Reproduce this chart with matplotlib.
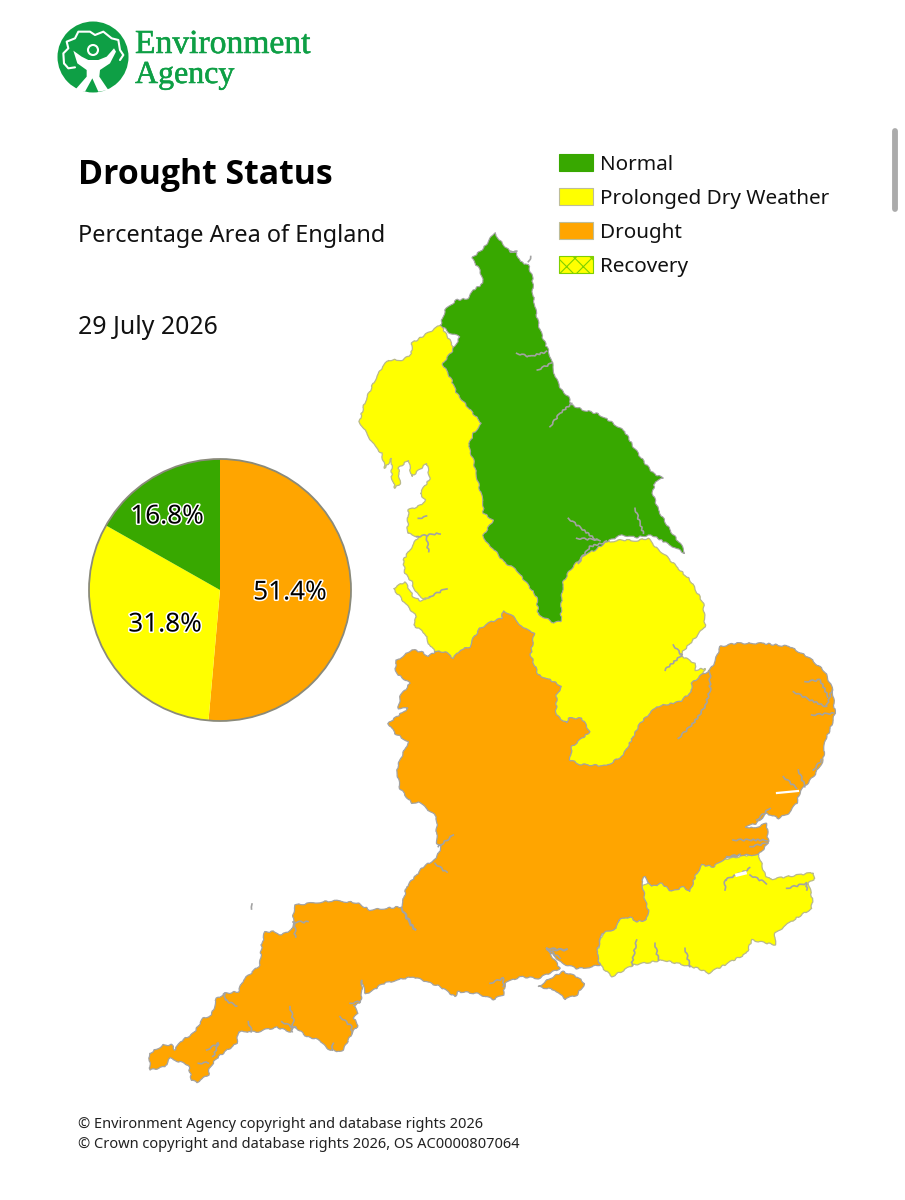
import matplotlib
matplotlib.use('Agg')
import matplotlib.pyplot as plt
import matplotlib.patheffects as pe
from matplotlib.patches import Polygon, Rectangle, Circle

# pie values, Percentage Area of England
pie_labels = ['Drought', 'Prolonged Dry Weather', 'Normal']
pie_values = [51.4, 31.8, 16.8]

legend_labels = ['Normal', 'Prolonged Dry Weather', 'Drought', 'Recovery']

GREEN = '#38A800'
YELLOW = '#FFFF00'
ORANGE = '#FFA500'
EDGE = '#A3A3A3'
LOGO = '#0E9F45'

# map outlines, each list in its own crop coordinates
# n = north crop (350,220), s = south east crop (380,600), w = south west crop (130,880), all 3x
normal_n = [(435,38),(448,60),(480,95),(500,100),(510,125),(535,135),(548,175),(548,215),(555,260),(565,310),
            (575,345),(592,385),(605,420),(615,470),(635,510),(655,530),(665,555),(700,570),(745,582),(790,610),
            (825,635),(850,680),(885,730),(910,760),(940,775),(915,785),(908,820),(925,870),(960,930),(1000,985),
            (1005,1000),(960,975),(905,945),(860,952),(815,945),(770,965),(735,990),(700,1005),(660,1050),(640,1085),
            (635,1130),(632,1205),(605,1208),(590,1195),(565,1185),(560,1130),(530,1090),(500,1050),(460,1025),
            (430,985),(405,965),(400,945),(430,900),(400,880),(400,850),(385,790),(370,720),(355,680),(370,640),
            (395,610),(360,570),(320,520),(305,480),(278,432),(305,395),(330,350),(300,340),(272,315),(285,270),
            (320,240),(355,235),(370,210),(400,190),(390,150),(365,115),(400,85),(425,50)]

dry_north_n = [(272,315),(240,335),(185,370),(185,400),(160,420),(115,420),(95,445),(75,480),(45,545),(28,605),
               (50,640),(75,680),(95,700),(105,745),(125,715),(125,770),(135,805),(150,790),(145,745),(175,720),
               (185,770),(230,730),(240,775),(210,820),(225,840),(215,855),(175,870),(172,940),(205,950),(160,1020),
               (165,1060),(185,1085),(195,1115),(225,1140),(240,1130),(210,1142),(190,1130),(165,1085),(130,1105),
               (165,1150),(200,1190),(190,1215),(225,1240),(240,1280),(255,1290)]
dry_north_s = [(165,165),(300,300),(500,560),(700,560),(880,400),(910,305),(945,290),(975,205),(945,210),(945,190),
               (900,165),(930,130),(975,80)]
dry_north_n2 = [(1060,1150),(1020,1080),(980,1040),(940,1000),(920,985),(895,955),(860,962),(815,960),(780,965),(500,700)]

dry_kent_s = [(1135,760),(1155,825),(1170,838),(1300,818),(1305,835),(1285,850),(1297,895),(1295,925),(1240,960),
              (1185,1000),(1185,1035),(1115,1020),(1100,1060),(985,1120),(955,1105),(850,1080),(760,1095),(695,1130),
              (660,1095),(650,1060),(700,900),(900,800)]

drought_s = [(50,180),(75,165),(95,148),(130,158),(145,170),(165,155),(195,155),(220,175),(240,150),(270,140),
             (280,115),(300,85),(335,65),(365,55),(370,32),(395,45),(430,85),(463,98),(452,165),(475,225),(500,235),
             (545,258),(530,285),(528,345),(560,370),(565,355),(605,355),(630,395),(600,420),(575,440),(570,480),
             (600,493),(680,498),(730,465),(760,410),(780,370),(830,320),(900,305),(935,275),(935,250),(965,225),
             (990,210),(1005,185),(1020,140),(1065,130),(1150,130),(1230,140),(1290,175),(1335,215),(1358,270),
             (1365,340),(1350,390),(1335,420),(1330,480),(1300,530),(1260,575),(1250,610),(1225,640),(1195,655),
             (1160,640),(1130,670),(1095,680),(1120,685),(1160,670),(1165,730),(1135,765),(1085,765),(1035,775),
             (1000,800),(965,795),(945,830),(930,875),(910,860),(875,875),(845,850),(815,860),(795,830),(785,840),
             (795,900),(805,930),(800,960),(770,965),(750,950),(715,960),(710,985),(665,1000),(650,1060),(660,1095),
             (610,1105)]
drought_w = [(1340,265),(1295,250),(1250,205),(1290,265),(1225,295),(1170,290),(1125,310),(1120,345),(1090,358),
             (1040,340),(985,335),(975,350),(930,320),(850,290),(800,300),(755,312),(725,335),(705,340),(695,300),
             (695,345),(690,370),(670,375),(685,400),(670,415),(685,435),(665,460),(640,510),(620,515),(590,505),
             (570,480),(530,470),(495,440),(480,455),(440,442),(410,448),(385,455),(355,455),(325,455),(320,490),
             (265,530),(240,560),(235,585),(200,607),(185,600),(175,555),(120,535),(105,560),(60,570),(58,520),
             (100,495),(125,495),(135,510),(150,485),(190,460),(220,415),(245,405),(260,355),(285,340),(325,335),
             (340,300),(390,255),(395,195),(405,155),(430,155),(455,165),(490,145),(490,100),(495,75),(610,62),
             (680,68),(720,90),(815,80),(825,40)]
drought_s2 = [(80,860),(130,800),(170,775),(185,735),(170,730),(170,650),(145,630),(115,605),(95,610),(60,565),
              (50,510),(60,480),(85,425),(45,400),(25,370),(50,350),(85,325),(55,325),(60,290),(90,250),(55,225),(45,205)]

wight_w = [(1225,320),(1260,295),(1300,275),(1340,290),(1365,310),(1340,345),(1305,357),(1275,330)]

rivers_n = [[(500,400),(540,410),(590,395)],[(562,450),(605,430)],[(600,620),(630,580),(665,550)],
            [(655,895),(700,930),(740,960)],[(680,955),(750,960)],[(685,1030),(720,980),(770,965)],
            [(855,865),(880,940)],[(205,895),(230,890)],[(200,950),(270,940)],[(230,950),(235,995)],
            [(240,1130),(290,1105)],[(480,93),(500,95)],[(535,125),(543,110)]]
rivers_s = [[(895,415),(940,370),(975,320),(990,270),(990,215)],
            [(1240,275),(1290,300),(1340,320),(1355,270)],[(1275,245),(1320,240),(1345,290)],[(1295,345),(1360,340)],
            [(1210,530),(1250,565)],[(1255,510),(1275,560)],[(1300,510),(1325,480)],
            [(1130,660),(1170,625)],[(1060,720),(1160,720)],[(1040,770),(1080,765)],[(1110,740),(1160,730)],
            [(1035,870),(1035,840),(1080,820),(1110,805)],[(1110,825),(1160,850)],
            [(220,705),(175,740)],[(165,790),(200,818)],[(65,925),(85,965),(105,990)],
            [(500,1045),(540,1075)],[(520,1050),(560,1050)],
            [(770,1020),(755,1095)],[(825,1030),(835,1080)],[(915,1045),(930,1100)],[(1220,865),(1280,850),(1280,870)],
            [(880,135),(905,165),(855,210)]]
rivers_w = [[(490,125),(535,125)],[(495,130),(495,170)],[(285,340),(285,360),(320,378)],[(660,370),(690,365)],
            [(630,410),(665,440),(665,460)],[(480,380),(490,420),(485,455)],[(455,425),(495,445)],[(355,425),(365,455)],
            [(230,510),(265,490),(250,530)],[(205,550),(235,548)],[(610,490),(605,510)],[(815,85),(855,150)],
            [(1250,205),(1310,210)],[(1080,310),(1120,295),(1120,320)],[(367,72),(367,88)]]

# logo shapes, crop (40,10) 3x
logo_person = [(100,122),(125,140),(145,150),(175,150),(200,140),(222,115),(228,125),(210,160),(180,180),(178,200),
               (205,240),(175,245),(157,205),(135,245),(105,240),(140,200),(140,180),(112,160)]
logo_crown = [(72,160),(70,130),(85,115),(80,95),(105,85),(115,65),(150,65),(165,75),(190,65),(215,85),(235,90),
              (240,120),(250,135),(240,150)]
logo_crown2 = [(72,160),(85,175),(105,172)]


def crop(points, x0, y0):
    return [(x0 + p[0] / 3, y0 + p[1] / 3) for p in points]


n = lambda pts: crop(pts, 350, 220)
s = lambda pts: crop(pts, 380, 600)
w = lambda pts: crop(pts, 130, 880)
lg = lambda pts: crop(pts, 40, 10)


def land(points, face, edge, lw, z):
    # rough edge so the coast does not look like straight segments
    p = Polygon(points, fc=face, ec=edge, lw=lw, zorder=z)
    p.set_sketch_params(scale=0.7, length=14, randomness=4)
    ax.add_patch(p)


plt.rcParams['font.family'] = ['Noto Sans', 'DejaVu Sans']
plt.rcParams['hatch.linewidth'] = 0.8

fig = plt.figure(figsize=(9.05, 12), dpi=100, facecolor='white')
ax = fig.add_axes([0, 0, 1, 1])
ax.set_xlim(0, 905)
ax.set_ylim(1200, 0)
ax.axis('off')

# map
land(n(dry_north_n) + s(dry_north_s) + n(dry_north_n2), YELLOW, '#B9B98A', 0.9, 2)
land(s(dry_kent_s), YELLOW, '#B9B98A', 0.9, 2)
land(s(drought_s) + w(drought_w) + s(drought_s2), ORANGE, EDGE, 0.9, 3)
land(w(wight_w), ORANGE, EDGE, 0.9, 3)
land(n(normal_n), GREEN, EDGE, 0.8, 4)
for r in [n(p) for p in rivers_n] + [s(p) for p in rivers_s] + [w(p) for p in rivers_w]:
    line, = ax.plot([q[0] for q in r], [q[1] for q in r], color=EDGE, lw=1.2, zorder=5)
    line.set_sketch_params(scale=0.8, length=8, randomness=3)
# stour and thames, white gaps
ax.plot([777, 798], [793, 791], color='white', lw=1.6, zorder=6)
ax.plot([737, 745], [875, 873], color='white', lw=2.5, zorder=6)

# titles
ax.text(78, 184, 'Drought Status', fontsize=24.4, fontweight='bold', family='Open Sans', color='black')
ax.text(78, 242, 'Percentage Area of England', fontsize=16.9, color='#111111')
ax.text(78, 334, '29 July 2026', fontsize=17.9, color='#111111')

# legend
swatches = [GREEN, YELLOW, ORANGE, YELLOW]
for i, (lab, col) in enumerate(zip(legend_labels, swatches)):
    y = 154 + i * 34
    if lab == 'Recovery':
        ax.add_patch(Rectangle((559, y), 34, 17, fc=col, ec='#7FCF00', hatch='xx', lw=0.8))
    else:
        ax.add_patch(Rectangle((559, y), 34, 17, fc=col, ec='#BDBD9A' if col != GREEN else col, lw=0.8))
    ax.text(600, y + 11, lab, fontsize=14.9, va='center', color='#111111')

# footer
ax.text(78, 1125, '© Environment Agency copyright and database rights 2026', fontsize=10.5, va='center', color='#222222')
ax.text(78, 1144, '© Crown copyright and database rights 2026, OS AC0000807064', fontsize=10.55, va='center', color='#222222')

# logo
ax.add_patch(Circle((93, 57), 35.5, fc=LOGO, ec='none'))
ax.add_patch(Polygon(lg(logo_person), fc='white', ec='none'))
ax.add_patch(Circle((93, 50), 5, fc=LOGO, ec='white', lw=1.5))
ax.plot(*zip(*lg(logo_crown)), color='white', lw=1.5, solid_capstyle='round')
ax.plot(*zip(*lg(logo_crown2)), color='white', lw=1.5, solid_capstyle='round')
logo_stroke = [pe.withStroke(linewidth=0.4, foreground=LOGO)]
ax.text(135, 53, 'Environment', fontsize=24.2, family='Liberation Serif', color=LOGO, path_effects=logo_stroke)
ax.text(135, 83, 'Agency', fontsize=23, family='Liberation Serif', color=LOGO, path_effects=logo_stroke)

# scrollbar of the screenshot
ax.plot([894.5, 894.5], [131, 209], color='#ABABAB', lw=4.2, solid_capstyle='round')

# pie
cx, cy, rad = 220, 590, 131
pad = 134
ax2 = fig.add_axes([(cx - pad) / 905, 1 - (cy + pad) / 1200, 2 * pad / 905, 2 * pad / 1200])
ax2.pie(pie_values, colors=[ORANGE, YELLOW, GREEN], startangle=90, counterclock=False, radius=1,
        wedgeprops={'linewidth': 0})
ax2.add_patch(Circle((0, 0), 1, fc='none', ec='#8A8A7A', lw=1.3))
ax2.set_xlim(-pad / rad, pad / rad)
ax2.set_ylim(-pad / rad, pad / rad)

label_pos = [(290, 593), (165, 625), (167, 517)]
for val, (x, y) in zip(pie_values, label_pos):
    ax.text(x, y, f'{val}%', fontsize=18.8, ha='center', va='center', color='black', zorder=10,
            path_effects=[pe.withStroke(linewidth=2.2, foreground='white')])
ax2.set_zorder(1)
ax.set_zorder(2)
ax.patch.set_alpha(0)

fig.savefig('out.png', dpi=100)
